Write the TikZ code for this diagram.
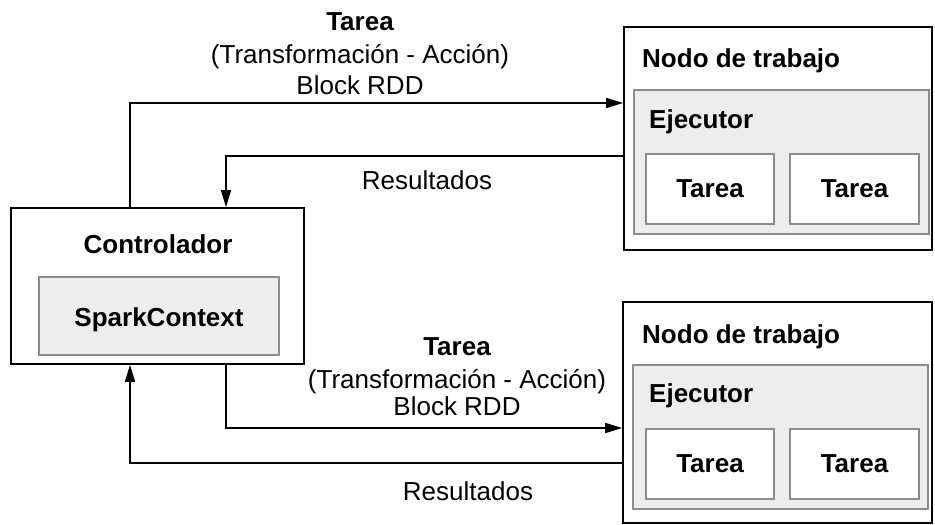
\documentclass[tikz,border=0pt]{standalone}
\usepackage{fontspec}
\setmainfont{Liberation Sans}
\usetikzlibrary{arrows.meta}
\begin{document}
\begin{tikzpicture}[x=1pt,y=-1pt,
  outerbox/.style={draw=black, line width=1.7pt, fill=white, inner sep=0pt},
  innerbox/.style={draw=black!45, line width=1.2pt, fill=black!7, inner sep=0pt},
  taskbox/.style={draw=black!45, line width=1.2pt, fill=white, inner sep=0pt,
    minimum width=128pt, minimum height=70pt},
  boldtxt/.style={font=\fontsize{26}{30}\selectfont\bfseries, inner sep=0pt, anchor=base},
  plaintxt/.style={font=\fontsize{26}{30}\selectfont, inner sep=0pt, anchor=base},
  flow/.style={line width=1.6pt, -{Triangle[length=17pt,width=10pt]}}
]
\useasboundingbox (0,0) rectangle (935,525);

% Driver
\node[outerbox, minimum width=293pt, minimum height=156pt] (ctrl) at (157.5,286) {};
\node[innerbox, minimum width=240pt, minimum height=78pt] (spark) at (159,316) {};
\node[boldtxt] (ctrltxt) at (158,253) {Controlador};
\node[boldtxt] (sparktxt) at (159,326) {SparkContext};

% Upper worker
\node[outerbox, minimum width=308pt, minimum height=223pt] (w1) at (778,138.5) {};
\node[innerbox, minimum width=295pt, minimum height=144pt] (e1) at (781.5,162) {};
\node[taskbox] (t11) at (710,189) {};
\node[taskbox, minimum width=129pt] (t12) at (854.5,189) {};
\node[boldtxt, anchor=base west] (w1txt) at (642,67) {Nodo de trabajo};
\node[boldtxt, anchor=base west] (e1txt) at (649,128) {Ejecutor};
\node[boldtxt] (t11txt) at (710,197) {Tarea};
\node[boldtxt] (t12txt) at (854.5,197) {Tarea};

% Lower worker
\node[outerbox, minimum width=309pt, minimum height=221pt] (w2) at (777.5,412.5) {};
\node[innerbox, minimum width=295pt, minimum height=144pt] (e2) at (780.5,437) {};
\node[taskbox] (t21) at (710,464) {};
\node[taskbox, minimum width=129pt] (t22) at (854.5,464) {};
\node[boldtxt, anchor=base west] (w2txt) at (642,343) {Nodo de trabajo};
\node[boldtxt, anchor=base west] (e2txt) at (649,402) {Ejecutor};
\node[boldtxt] (t21txt) at (710,472) {Tarea};
\node[boldtxt] (t22txt) at (854.5,472) {Tarea};

% Connectors
\coordinate (up1) at (130,103);
\coordinate (dn1) at (226,156);
\coordinate (dn2) at (226,428);
\coordinate (up2) at (130,463);
\draw[flow] (ctrl.north -| up1) |- (w1.west |- up1);
\draw[flow] (w1.west |- dn1) -| (ctrl.north -| dn1);
\draw[flow] (ctrl.south -| dn2) |- (w2.west |- dn2);
\draw[flow] (w2.west |- up2) -| (ctrl.south -| up2);

% Connector labels
\node[boldtxt] (task1) at (360,30) {Tarea};
\node[plaintxt] (op1) at (360,63) {(Transformación - Acción)};
\node[plaintxt] (rdd1) at (360,94) {Block RDD};
\node[plaintxt] (res1) at (427,189) {Resultados};

\node[boldtxt] (task2) at (457,355) {Tarea};
\node[plaintxt] (op2) at (457,388) {(Transformación - Acción)};
\node[plaintxt] (rdd2) at (457,415) {Block RDD};
\node[plaintxt] (res2) at (468,500) {Resultados};
\end{tikzpicture}
\end{document}
